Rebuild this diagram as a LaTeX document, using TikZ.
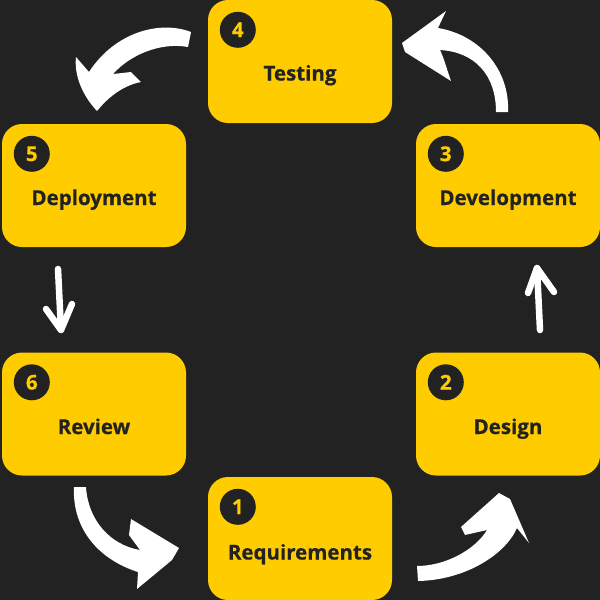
\documentclass[tikz,border=0pt]{standalone}
\usepackage{fontspec}
\setmainfont{Open Sans}
\newfontfamily\lblfont{Open Sans}[BoldFeatures={FakeBold=0.6}]
\definecolor{bg}{HTML}{222222}
\definecolor{ylw}{HTML}{FFCC00}
\definecolor{ink}{HTML}{222222}
\begin{document}
\begin{tikzpicture}[x=1pt,y=-1pt,
  stagebox/.style={fill=ylw,rounded corners=20pt,minimum width=184pt,minimum height=123pt,inner sep=0pt,draw=none},
  stagelabel/.style={anchor=base,text=ink,font=\lblfont\bfseries\fontsize{20.5}{24}\selectfont,inner sep=0pt},
  numdot/.style={circle,fill=ink,minimum size=36pt,inner sep=0pt,text=ylw,font=\lblfont\bfseries\fontsize{20.5}{24}\selectfont},
  bigarrow/.style={fill=white},
  thinarrow/.style={draw=white,line width=6.5pt,line cap=round,line join=round}]
\fill[bg] (0,0) rectangle (600,600);
\useasboundingbox (0,0) rectangle (600,600);
% boxes
\node[stagebox] (s1) at (300,538.5) {};
\node[stagebox] (s2) at (508,414) {};
\node[stagebox] (s3) at (508,185.5) {};
\node[stagebox] (s4) at (300,61.5) {};
\node[stagebox] (s5) at (94,185.5) {};
\node[stagebox] (s6) at (94,414) {};
% labels
\node[stagelabel] (l1) at ([yshift=-21pt]s1.center) {Requirements};
\node[stagelabel] (l2) at ([yshift=-20pt]s2.center) {Design};
\node[stagelabel] (l3) at ([yshift=-19.5pt]s3.center) {Development};
\node[stagelabel] (l4) at ([yshift=-19pt]s4.center) {Testing};
\node[stagelabel] (l5) at ([yshift=-19.5pt]s5.center) {Deployment};
\node[stagelabel] (l6) at ([yshift=-20pt]s6.center) {Review};
% numbers
\node[numdot] (n1) at ([xshift=30pt,yshift=-30pt]s1.north west) {1};
\node[numdot] (n2) at ([xshift=30pt,yshift=-30pt]s2.north west) {2};
\node[numdot] (n3) at ([xshift=30pt,yshift=-30pt]s3.north west) {3};
\node[numdot] (n4) at ([xshift=30pt,yshift=-30pt]s4.north west) {4};
\node[numdot] (n5) at ([xshift=30pt,yshift=-30pt]s5.north west) {5};
\node[numdot] (n6) at ([xshift=30pt,yshift=-30pt]s6.north west) {6};
% arrow 4 -> 5
\fill[bigarrow] (191,32) .. controls (160,20) and (115,32) .. (89,72) -- (76,57)
  .. controls (74,75) and (82,95) .. (97,111) .. controls (110,95) and (125,85) .. (141,82)
  -- (131,72) -- (113,74) .. controls (130,55) and (160,42) .. (188,47) -- cycle;
% arrow 3 -> 4
\fill[bigarrow] (508,112) .. controls (510,70) and (480,35) .. (438,28) -- (446,11) -- (402,43)
  -- (405,52) -- (451,81) .. controls (447,70) and (444,58) .. (440,50)
  .. controls (475,52) and (496,75) .. (496,112) -- cycle;
% arrow 6 -> 1
\fill[bigarrow] (86,487) .. controls (88,520) and (110,545) .. (140,550) -- (129,535) -- (131,519)
  -- (179,548) -- (172,560) -- (137,589) -- (138,572)
  .. controls (100,560) and (72,530) .. (74,487) -- cycle;
% arrow 1 -> 2
\fill[bigarrow] (417,566) .. controls (445,566) and (475,550) .. (487,530) -- (465,535) -- (461,527)
  -- (499,493) -- (510,499) -- (529,543) -- (517,528)
  .. controls (505,555) and (465,580) .. (418,581) -- cycle;
% arrow 5 -> 6
\coordinate (e5) at (58,269);
\coordinate (e6) at (61,330);
\draw[thinarrow] (e5) -- (e6);
\draw[thinarrow] (46,309) -- (e6) -- (72,304);
% arrow 2 -> 3
\coordinate (e2) at (540,330);
\coordinate (e3) at (537,268);
\draw[thinarrow] (e2) -- (e3);
\draw[thinarrow] (528,293) -- (e3) -- (554,292);
\end{tikzpicture}
\end{document}
